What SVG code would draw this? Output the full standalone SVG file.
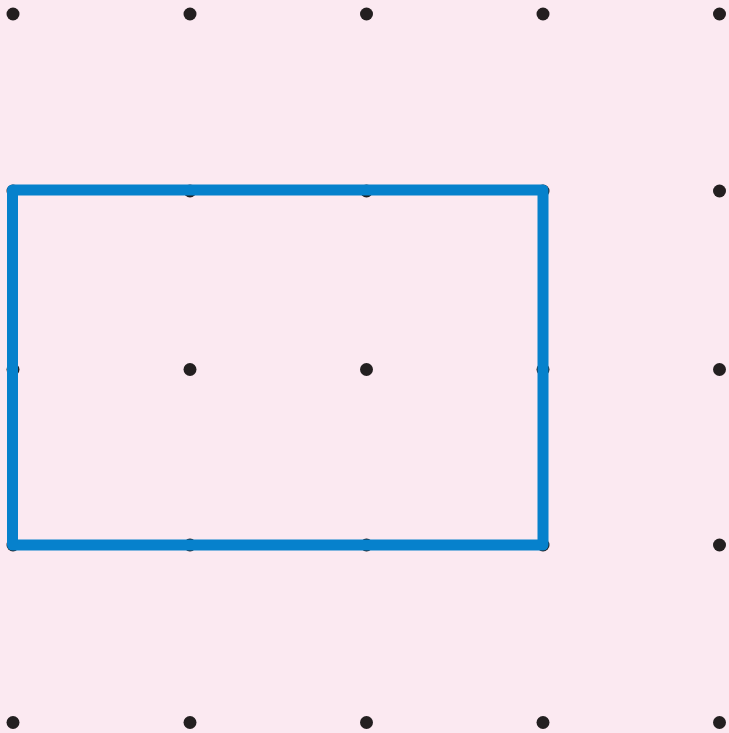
<svg xmlns="http://www.w3.org/2000/svg" width="729" height="733" viewBox="0 0 729 733">
<style>
.dot{fill:#231f20}
.rect{fill:none;stroke:#0681cc;stroke-width:11;stroke-linejoin:round;stroke-linecap:round}
</style>
<rect x="0" y="0" width="729" height="733" fill="#fbe9f1"/>
<g id="dots">
<circle class="dot" cx="13" cy="14" r="6.5"/><circle class="dot" cx="190" cy="14" r="6.5"/><circle class="dot" cx="366.5" cy="14" r="6.5"/><circle class="dot" cx="543" cy="14" r="6.5"/><circle class="dot" cx="719.5" cy="14" r="6.5"/>
<circle class="dot" cx="13" cy="191" r="6.5"/><circle class="dot" cx="190" cy="191" r="6.5"/><circle class="dot" cx="366.5" cy="191" r="6.5"/><circle class="dot" cx="543" cy="191" r="6.5"/><circle class="dot" cx="719.5" cy="191" r="6.5"/>
<circle class="dot" cx="13" cy="369.5" r="6.5"/><circle class="dot" cx="190" cy="369.5" r="6.5"/><circle class="dot" cx="366.5" cy="369.5" r="6.5"/><circle class="dot" cx="543" cy="369.5" r="6.5"/><circle class="dot" cx="719.5" cy="369.5" r="6.5"/>
<circle class="dot" cx="13" cy="545" r="6.5"/><circle class="dot" cx="190" cy="545" r="6.5"/><circle class="dot" cx="366.5" cy="545" r="6.5"/><circle class="dot" cx="543" cy="545" r="6.5"/><circle class="dot" cx="719.5" cy="545" r="6.5"/>
<circle class="dot" cx="13" cy="722.5" r="6.5"/><circle class="dot" cx="190" cy="722.5" r="6.5"/><circle class="dot" cx="366.5" cy="722.5" r="6.5"/><circle class="dot" cx="543" cy="722.5" r="6.5"/><circle class="dot" cx="719.5" cy="722.5" r="6.5"/>
</g>
<g id="rectangle">
<rect class="rect" x="12.5" y="190" width="530.5" height="355"/>
</g>
</svg>
